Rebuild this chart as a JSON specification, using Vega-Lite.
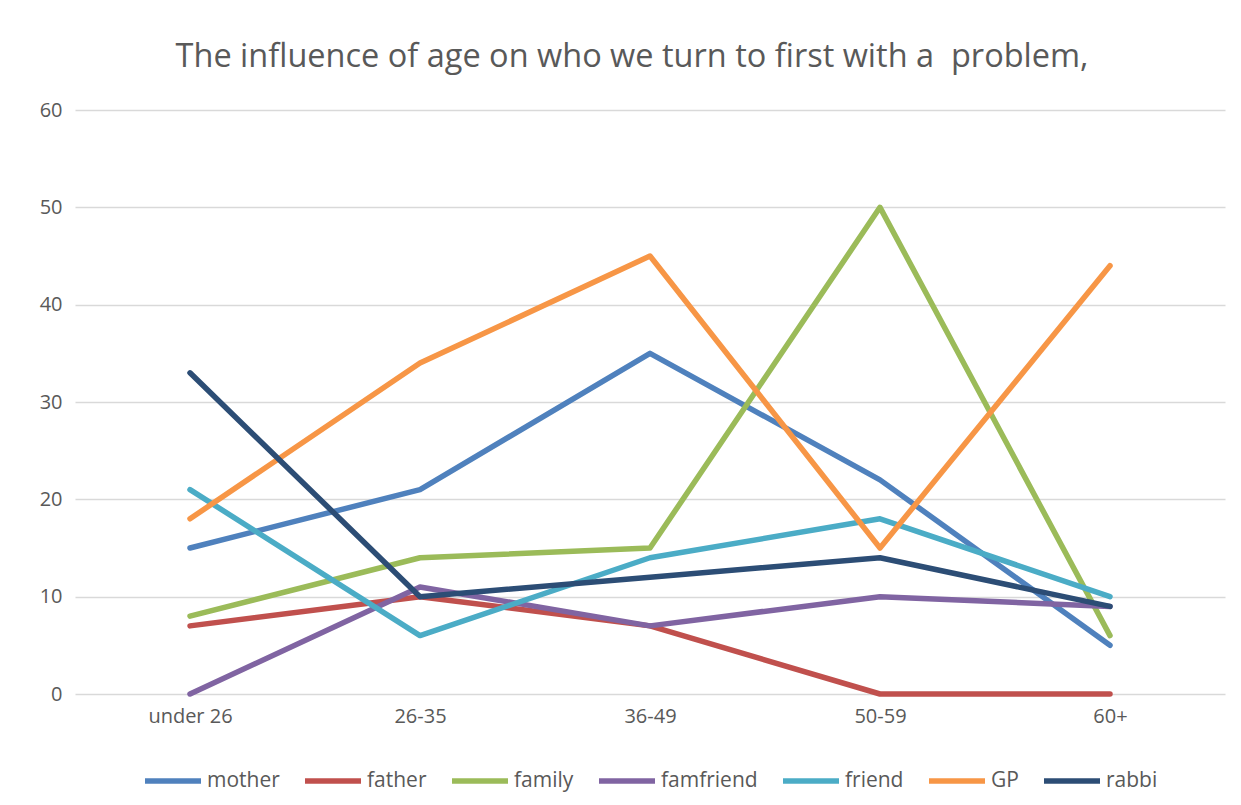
{
  "$schema": "https://vega.github.io/schema/vega-lite/v6.json",
  "width": 1150,
  "height": 584,
  "autosize": {"type": "none"},
  "padding": {"left": 75, "top": 110, "right": 16, "bottom": 111},
  "background": "white",
  "title": {
    "text": "The influence of age on who we turn to first with a\u00a0 problem,",
    "fontSize": 32.5,
    "font": "Open Sans",
    "fontWeight": "normal",
    "color": "#595959",
    "anchor": "middle",
    "frame": "bounds",
    "offset": 27
  },
  "data": {
    "values": [
      {"age": "under 26", "who": "mother", "value": 15},
      {"age": "26-35", "who": "mother", "value": 21},
      {"age": "36-49", "who": "mother", "value": 35},
      {"age": "50-59", "who": "mother", "value": 22},
      {"age": "60+", "who": "mother", "value": 5},
      {"age": "under 26", "who": "father", "value": 7},
      {"age": "26-35", "who": "father", "value": 10},
      {"age": "36-49", "who": "father", "value": 7},
      {"age": "50-59", "who": "father", "value": 0},
      {"age": "60+", "who": "father", "value": 0},
      {"age": "under 26", "who": "family", "value": 8},
      {"age": "26-35", "who": "family", "value": 14},
      {"age": "36-49", "who": "family", "value": 15},
      {"age": "50-59", "who": "family", "value": 50},
      {"age": "60+", "who": "family", "value": 6},
      {"age": "under 26", "who": "famfriend", "value": 0},
      {"age": "26-35", "who": "famfriend", "value": 11},
      {"age": "36-49", "who": "famfriend", "value": 7},
      {"age": "50-59", "who": "famfriend", "value": 10},
      {"age": "60+", "who": "famfriend", "value": 9},
      {"age": "under 26", "who": "friend", "value": 21},
      {"age": "26-35", "who": "friend", "value": 6},
      {"age": "36-49", "who": "friend", "value": 14},
      {"age": "50-59", "who": "friend", "value": 18},
      {"age": "60+", "who": "friend", "value": 10},
      {"age": "under 26", "who": "GP", "value": 18},
      {"age": "26-35", "who": "GP", "value": 34},
      {"age": "36-49", "who": "GP", "value": 45},
      {"age": "50-59", "who": "GP", "value": 15},
      {"age": "60+", "who": "GP", "value": 44},
      {"age": "under 26", "who": "rabbi", "value": 33},
      {"age": "26-35", "who": "rabbi", "value": 10},
      {"age": "36-49", "who": "rabbi", "value": 12},
      {"age": "50-59", "who": "rabbi", "value": 14},
      {"age": "60+", "who": "rabbi", "value": 9}
    ]
  },
  "mark": {"type": "line", "strokeWidth": 5.5, "strokeCap": "round", "strokeJoin": "round"},
  "encoding": {
    "x": {
      "field": "age",
      "type": "ordinal",
      "sort": ["under 26", "26-35", "36-49", "50-59", "60+"],
      "scale": {"type": "point", "padding": 0.5},
      "axis": {
        "title": null,
        "labelAngle": 0,
        "labelFontSize": 20,
        "labelFont": "Open Sans",
        "labelColor": "#595959",
        "labelPadding": 12,
        "ticks": false,
        "domain": false,
        "grid": false
      }
    },
    "y": {
      "field": "value",
      "type": "quantitative",
      "scale": {"domain": [0, 60], "nice": false},
      "axis": {
        "title": null,
        "values": [0, 10, 20, 30, 40, 50, 60],
        "labelFontSize": 20,
        "labelFont": "Open Sans",
        "labelColor": "#595959",
        "labelPadding": 13,
        "ticks": false,
        "domain": false,
        "gridColor": "#d9d9d9",
        "gridWidth": 1.5
      }
    },
    "color": {
      "field": "who",
      "type": "nominal",
      "scale": {
        "domain": ["mother", "father", "family", "famfriend", "friend", "GP", "rabbi"],
        "range": ["#4F81BD", "#C0504D", "#9BBB59", "#8064A2", "#4BACC6", "#F79646", "#2C4D75"]
      },
      "legend": {
        "title": null,
        "orient": "bottom",
        "direction": "horizontal",
        "offset": 24,
        "symbolType": "stroke",
        "symbolSize": 3136,
        "symbolStrokeWidth": 5.5,
        "labelFontSize": 21,
        "labelFont": "Open Sans",
        "labelColor": "#595959",
        "labelOffset": 3,
        "columnPadding": 14
      }
    }
  },
  "config": {
    "view": {"stroke": null},
    "legend": {"layout": {"bottom": {"anchor": "middle"}}}
  }
}
